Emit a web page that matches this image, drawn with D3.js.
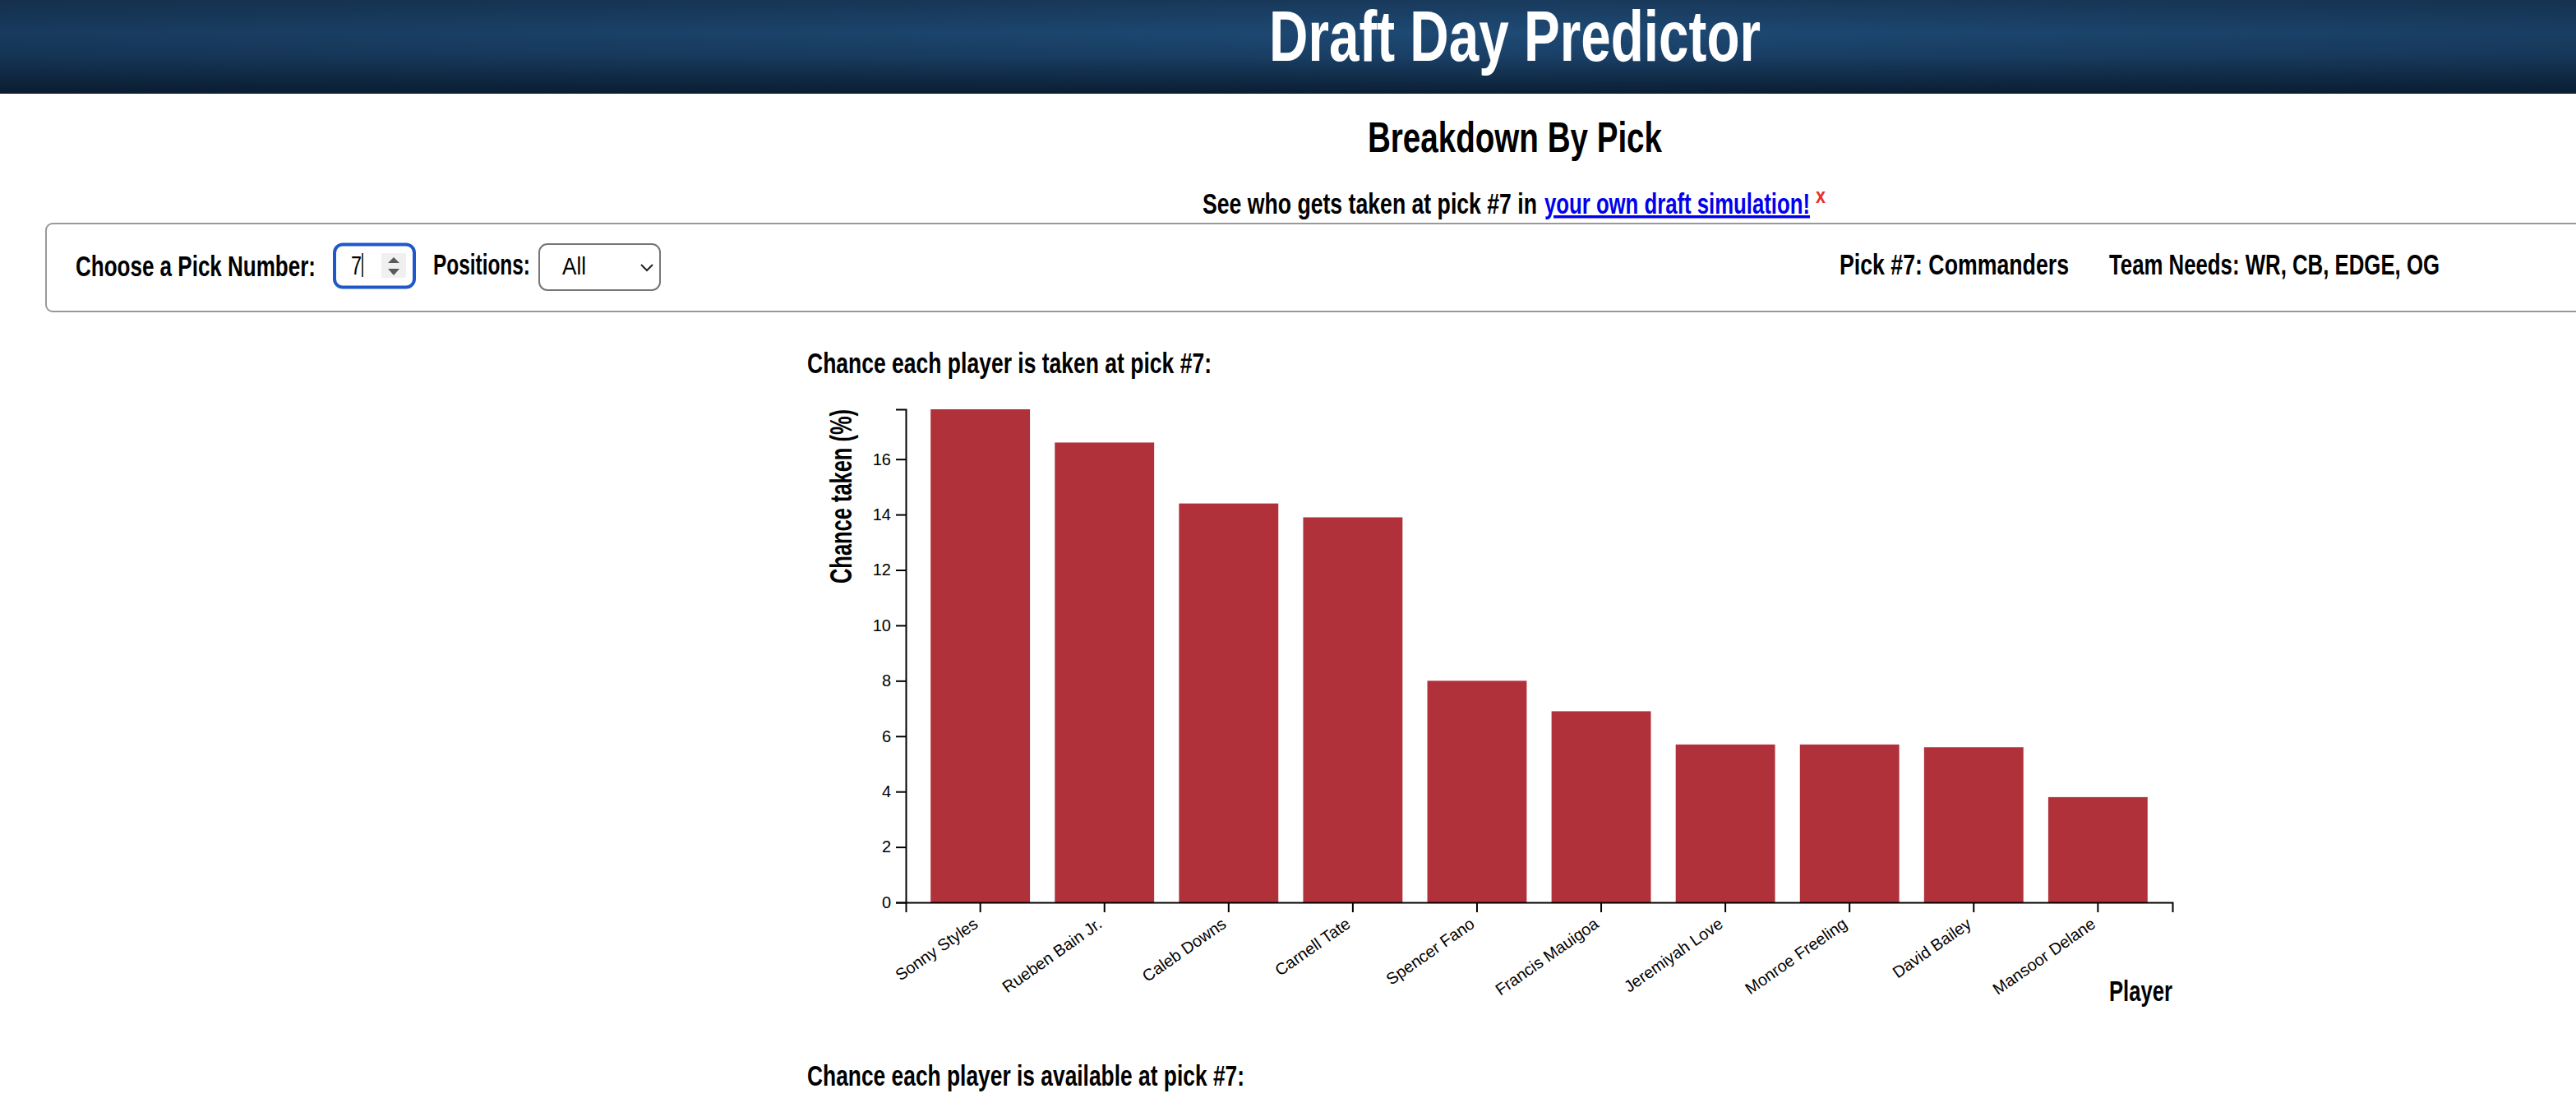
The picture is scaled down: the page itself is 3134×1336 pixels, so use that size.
<!DOCTYPE html>
<html>
<head>
<meta charset="utf-8">
<title>Draft Day Predictor</title>
<script src="https://d3js.org/d3.v7.min.js"></script>
<style>
    html, body { margin: 0; padding: 0; background: #fff; overflow: hidden; }
    svg { display: block; }
    text { font-family: "Liberation Sans Narrow", "Liberation Sans", sans-serif; }
    .tick text { font-family: "Liberation Sans", sans-serif; font-size: 20px; fill: #000; }
    .tick line, .domain { stroke: #000; stroke-width: 2px; }
</style>
</head>
<body>
<div id="viz"></div>
<script>
const width = 3134;
const height = 1336;

const players = ["Sonny Styles", "Rueben Bain Jr.", "Caleb Downs", "Carnell Tate", "Spencer Fano",
    "Francis Mauigoa", "Jeremiyah Love", "Monroe Freeling", "David Bailey", "Mansoor Delane"];
const chanceTaken = [17.8, 16.6, 14.4, 13.9, 8.0, 6.9, 5.7, 5.7, 5.6, 3.8];

const margins = { left: 1102, right: 491, top: 498, bottom: 238 };
const visWidth = width - margins.left - margins.right;
const visHeight = height - margins.top - margins.bottom;

const svg = d3.select("#viz")
    .append("svg")
    .attr("width", width)
    .attr("height", height);

const defs = svg.append("defs");

const vGrad = defs.append("linearGradient").attr("id", "headV").attr("x1", 0).attr("x2", 0).attr("y1", 0).attr("y2", 1);
[[0, "#193a5c"], [0.35, "#1e4a75"], [0.6, "#1a4067"], [1, "#0a1e32"]].forEach(s => {
    vGrad.append("stop").attr("offset", s[0]).attr("stop-color", s[1]);
});
const hGrad = defs.append("linearGradient").attr("id", "headH");
[[0, 0.32], [0.59, 0], [1, 0.25]].forEach(s => {
    hGrad.append("stop").attr("offset", s[0]).attr("stop-color", "#0a1a2c").attr("stop-opacity", s[1]);
});

// header
svg.append("rect").attr("width", width).attr("height", 114).attr("fill", "url(#headV)");
svg.append("rect").attr("width", width).attr("height", 114).attr("fill", "url(#headH)");

// x, baseline, size, target width
function label(str, x, y, size, w, opts = {}) {
    const t = svg.append("text")
        .attr("x", x)
        .attr("y", y)
        .attr("font-size", size)
        .attr("font-weight", opts.weight || "bold")
        .attr("fill", opts.fill || "#000")
        .text(str);
    if (w) t.attr("textLength", w).attr("lengthAdjust", "spacingAndGlyphs");
    return t;
}

label("Draft Day Predictor", 1544, 74, 87, 598, { fill: "#fff" });
label("Breakdown By Pick", 1664, 185, 52, 358);
label("See who gets taken at pick #7 in", 1463, 260, 35, 407);
label("your own draft simulation!", 1879, 260, 35, 323, { fill: "#0000ee" }).attr("text-decoration", "underline");
label("x", 2209, 247, 26, 12, { fill: "#e8302a" });

// control bar
svg.append("rect").attr("x", 56).attr("y", 274).attr("width", 3200).attr("height", 106).attr("rx", 8).attr("fill", "#eee").attr("opacity", 0.7);
svg.append("rect").attr("x", 56).attr("y", 272).attr("width", 3200).attr("height", 107).attr("rx", 8)
    .attr("fill", "#fff").attr("stroke", "#999").attr("stroke-width", 2);

label("Choose a Pick Number:", 92, 336, 35, 292);
svg.append("rect").attr("x", 407).attr("y", 297.5).attr("width", 97).attr("height", 52).attr("rx", 10)
    .attr("fill", "#fff").attr("stroke", "#2058c8").attr("stroke-width", 4);
label("7", 427, 334, 32, 13, { weight: "normal" });
svg.append("line").attr("x1", 441).attr("x2", 441).attr("y1", 308).attr("y2", 337).attr("stroke", "#000").attr("stroke-width", 1.5);
svg.append("rect").attr("x", 464).attr("y", 308).attr("width", 30).attr("height", 30).attr("fill", "#f0f0f0");
svg.append("path").attr("d", "M479 313 L486 320 L472 320 Z").attr("fill", "#5a5a5a");
svg.append("path").attr("d", "M479 335 L486 327 L472 327 Z").attr("fill", "#5a5a5a");

label("Positions:", 527, 334, 35, 118);
svg.append("rect").attr("x", 656).attr("y", 297).attr("width", 147).attr("height", 56).attr("rx", 10)
    .attr("fill", "#fff").attr("stroke", "#767676").attr("stroke-width", 2);
label("All", 684, 334, 30, 29, { weight: "normal" });
svg.append("path").attr("d", "M780 322 L787 329 L794 322").attr("fill", "none").attr("stroke", "#222").attr("stroke-width", 2);

label("Pick #7: Commanders", 2238, 334, 35, 279);
label("Team Needs: WR, CB, EDGE, OG", 2566, 334, 35, 402);

label("Chance each player is taken at pick #7:", 982, 454, 35, 492);
label("Chance each player is available at pick #7:", 982, 1321, 35, 532);

// bar chart
const chart = svg.append("g")
    .attr("transform", `translate(${margins.left}, ${margins.top})`);

const xScale = d3.scaleBand()
    .domain(players)
    .range([0, visWidth])
    .padding(0.2);

const yScale = d3.scaleLinear()
    .domain([0, d3.max(chanceTaken)])
    .range([visHeight, 0]);

chart.selectAll("rect.bar")
    .data(chanceTaken)
    .enter()
    .append("rect")
    .attr("class", "bar")
    .attr("x", (d, i) => xScale(players[i]))
    .attr("y", d => yScale(d))
    .attr("width", xScale.bandwidth())
    .attr("height", d => visHeight - yScale(d))
    .attr("fill", "#b1313a");

chart.append("g")
    .attr("transform", `translate(0, ${visHeight})`)
    .call(d3.axisBottom(xScale).tickSize(12))
    .selectAll("text")
    .attr("text-anchor", "end")
    .attr("x", -18)
    .attr("y", 16)
    .attr("dy", "0.35em")
    .attr("transform", "rotate(-35)");

chart.append("g")
    .call(d3.axisLeft(yScale).ticks(10).tickSize(12).tickPadding(6));

svg.append("text")
    .attr("transform", "translate(1036, 498) rotate(-90)")
    .attr("text-anchor", "end")
    .attr("font-size", 36)
    .attr("font-weight", "bold")
    .attr("textLength", 212)
    .attr("lengthAdjust", "spacingAndGlyphs")
    .text("Chance taken (%)");

label("Player", 2566, 1218, 35, 77);
</script>
</body>
</html>
